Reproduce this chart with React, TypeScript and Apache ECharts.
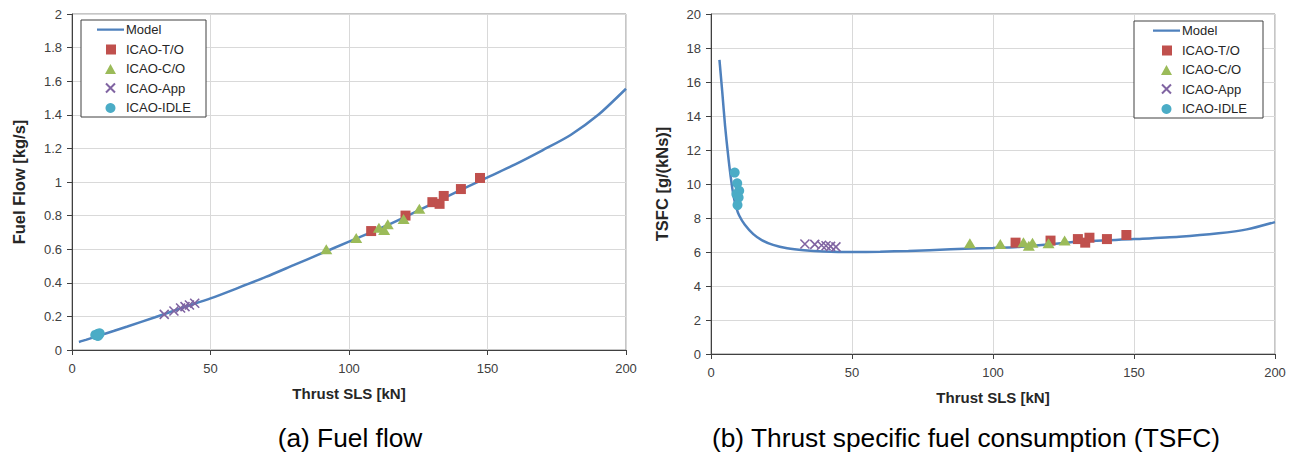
import React, { useEffect, useRef } from "react";
import * as echarts from "echarts";

// ---- Model curves ----
const modelFuelThrust = [2.5, 5, 10, 15, 20, 30, 40, 50, 60, 70, 80, 90, 100, 110, 120, 130, 140, 150, 160, 170, 180, 190, 200];
const modelFuel = [0.048, 0.06, 0.087, 0.113, 0.14, 0.195, 0.252, 0.307, 0.37, 0.435, 0.505, 0.575, 0.645, 0.715, 0.79, 0.87, 0.95, 1.027, 1.105, 1.19, 1.28, 1.4, 1.555];

const modelTsfcThrust = [3, 4, 5, 6, 7, 8, 9, 10, 12, 15, 18, 22, 27, 33, 40, 50, 60, 70, 85, 100, 110, 130, 150, 166, 180, 190, 200];
const modelTsfc = [17.3, 15.4, 13.4, 11.8, 10.4, 9.3, 8.6, 8.15, 7.6, 7.05, 6.7, 6.42, 6.22, 6.1, 6.03, 6.0, 6.02, 6.06, 6.16, 6.24, 6.31, 6.6, 6.76, 6.9, 7.1, 7.33, 7.76];

// ---- ICAO points ----
const toThrust = [108.0, 120.4, 130.1, 132.7, 134.2, 140.4, 147.3];
const toFuel = [0.708, 0.8, 0.88, 0.87, 0.917, 0.958, 1.024];
const toTsfc = [6.55, 6.67, 6.76, 6.55, 6.84, 6.76, 7.0];

const coThrust = [91.8, 102.6, 110.8, 112.7, 114.0, 119.7, 125.4];
const coFuel = [0.6, 0.667, 0.728, 0.714, 0.748, 0.78, 0.841];
const coTsfc = [6.51, 6.47, 6.57, 6.37, 6.55, 6.51, 6.67];

const appThrust = [33.3, 36.8, 39.2, 40.8, 42.4, 44.3];
const appFuel = [0.212, 0.232, 0.25, 0.258, 0.268, 0.278];
const appTsfc = [6.47, 6.45, 6.4, 6.37, 6.33, 6.3];

const idleThrust = [8.4, 9.3, 10.0, 9.0, 9.8, 9.4];
const idleFuel = [0.09, 0.096, 0.099, 0.087, 0.093, 0.084];
const idleTsfc = [10.67, 10.04, 9.6, 9.4, 9.2, 8.76];

const names = ["Model", "ICAO-T/O", "ICAO-C/O", "ICAO-App", "ICAO-IDLE"];

const zip = (a: number[], b: number[]) => a.map((v, i) => [v, b[i]]);

const C_LINE = "#4F81BD";
const C_TO = "#C0504D";
const C_CO = "#9BBB59";
const C_APP = "#8064A2";
const C_IDLE = "#4BACC6";
const FONT = "'Liberation Sans', Arial, sans-serif";
const CROSS = "path://M0,0L10,10M10,0L0,10";

// legend icons padded to a 27x11 box so that they are not stretched
const PAD = "M0,0L0.01,0M27,11L27.01,11";
const ICONS = [
  "path://M0,4.5H27V6.7H0Z" + PAD,
  "path://M9,1H19V11H9Z" + PAD,
  "path://M13.5,1L19,11H8Z" + PAD,
  "path://M9,1L18,10M18,1L9,10" + PAD,
  "path://M13.5,1A5,5 0 1,1 13.49,1Z" + PAD,
];

function seriesFor(idx: number, x: { m: number[]; mv: number[]; to: number[]; co: number[]; app: number[]; idle: number[] }) {
  return [
    {
      name: names[0], type: "line", xAxisIndex: idx, yAxisIndex: idx,
      data: zip(x.m, x.mv), symbol: "none", showSymbol: false, smooth: 0.25,
      lineStyle: { color: C_LINE, width: 2.5 }, itemStyle: { color: C_LINE }, z: 2,
    },
    {
      name: names[1], type: "scatter", xAxisIndex: idx, yAxisIndex: idx,
      data: zip(toThrust, x.to), symbol: "rect", symbolSize: 10,
      itemStyle: { color: C_TO, opacity: 1 }, z: 3,
    },
    {
      name: names[2], type: "scatter", xAxisIndex: idx, yAxisIndex: idx,
      data: zip(coThrust, x.co), symbol: "triangle", symbolSize: [12, 10],
      itemStyle: { color: C_CO, opacity: 1 }, z: 3,
    },
    {
      name: names[3], type: "scatter", xAxisIndex: idx, yAxisIndex: idx,
      data: zip(appThrust, x.app), symbol: CROSS, symbolSize: 9,
      itemStyle: { color: "rgba(0,0,0,0)", borderColor: C_APP, borderWidth: 1.6, opacity: 1 }, z: 3,
    },
    {
      name: names[4], type: "scatter", xAxisIndex: idx, yAxisIndex: idx,
      data: zip(idleThrust, x.idle), symbol: "circle", symbolSize: 10,
      itemStyle: { color: C_IDLE, opacity: 1 }, z: 3,
    },
  ];
}

function axisX(gridIndex: number) {
  return {
    type: "value", gridIndex, min: 0, max: 200, interval: 50,
    name: "Thrust SLS [kN]", nameLocation: "middle", nameGap: 36,
    nameTextStyle: { fontFamily: FONT, fontWeight: "bold", fontSize: 15, color: "#262626" },
    axisLine: { show: true, onZero: false, lineStyle: { color: "#404040", width: 1 } },
    axisTick: { show: true, inside: false, length: 5, lineStyle: { color: "#404040" } },
    axisLabel: { fontFamily: FONT, fontSize: 13, color: "#404040", margin: 12 },
    splitLine: { show: true, lineStyle: { color: "#d9d9d9", width: 1 } },
  };
}

function axisY(gridIndex: number, max: number, interval: number, name: string) {
  return {
    type: "value", gridIndex, min: 0, max, interval,
    name, nameLocation: "middle", nameGap: gridIndex === 0 ? 45 : 41,
    nameTextStyle: { fontFamily: FONT, fontWeight: "bold", fontSize: 16.5, color: "#262626" },
    axisLine: { show: true, onZero: false, lineStyle: { color: "#404040", width: 1 } },
    axisTick: { show: true, inside: false, length: 5, lineStyle: { color: "#404040" } },
    axisLabel: { fontFamily: FONT, fontSize: 13, color: "#404040", margin: 10 },
    splitLine: { show: true, lineStyle: { color: "#d9d9d9", width: 1 } },
  };
}

function legendAt(left: number, top: number, padding: number[]) {
  return {
    data: names.map((n, i) => ({ name: n, icon: ICONS[i] })),
    orient: "vertical", left, top,
    itemWidth: 27, itemHeight: 11, itemGap: 6.5,
    padding,
    borderColor: "#404040", borderWidth: 1, backgroundColor: "#fff",
    textStyle: { fontFamily: FONT, fontSize: 13, lineHeight: 13, color: "#262626", padding: [0, 0, 0, -3] },
    selectedMode: false,
  };
}

export default function App() {
  const ref = useRef<HTMLDivElement>(null);
  useEffect(() => {
    if (!ref.current) return;
    const chart = echarts.init(ref.current, undefined, { renderer: "svg" });
    chart.setOption({
      animation: false,
      backgroundColor: "#fff",
      grid: [
        { left: 72, right: 672, top: 14, bottom: 106, show: true, borderColor: "#8c8c8c", borderWidth: 1, backgroundColor: "transparent" },
        { left: 711, right: 23, top: 14, bottom: 102, show: true, borderColor: "#8c8c8c", borderWidth: 1, backgroundColor: "transparent" },
      ],
      xAxis: [axisX(0), axisX(1)],
      yAxis: [axisY(0, 2, 0.2, "Fuel Flow [kg/s]"), axisY(1, 20, 2, "TSFC [g/(kNs)]")],
      legend: [legendAt(81, 20, [3, 15, 3, 15]), legendAt(1134, 21, [3, 16, 3, 18])],
      series: [
        ...seriesFor(0, { m: modelFuelThrust, mv: modelFuel, to: toFuel, co: coFuel, app: appFuel, idle: idleFuel }),
        ...seriesFor(1, { m: modelTsfcThrust, mv: modelTsfc, to: toTsfc, co: coTsfc, app: appTsfc, idle: idleTsfc }),
      ],
      graphic: [
        { type: "text", x: 350, y: 438, style: { text: "(a) Fuel flow", fontFamily: FONT, fontSize: 26.3, fill: "#000", align: "center", verticalAlign: "middle" } },
        { type: "text", x: 966, y: 438, style: { text: "(b) Thrust specific fuel consumption (TSFC)", fontFamily: FONT, fontSize: 26.3, fill: "#000", align: "center", verticalAlign: "middle" } },
      ],
    });
    return () => chart.dispose();
  }, []);
  return <div ref={ref} style={{ position: "fixed", left: 0, top: 0, width: 1298, height: 456 }} />;
}
